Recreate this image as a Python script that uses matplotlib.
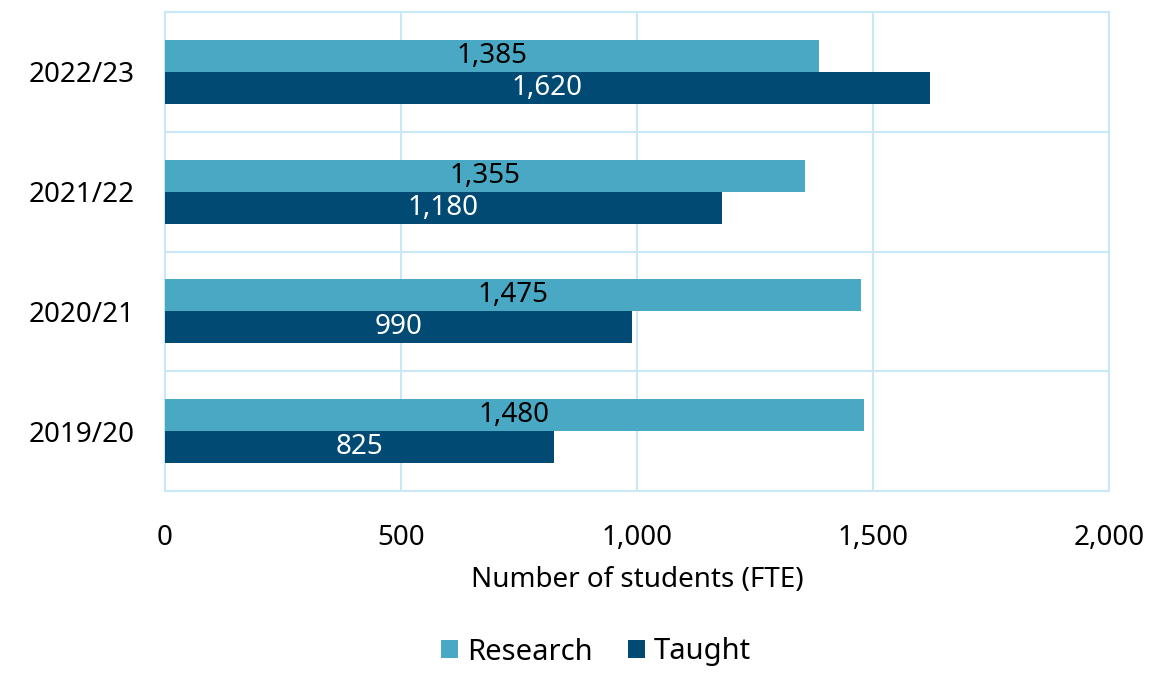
import matplotlib.pyplot as plt
import numpy as np

years = ['2019/20', '2020/21', '2021/22', '2022/23']
research = [1480, 1475, 1355, 1385]
taught = [825, 990, 1180, 1620]

c_res = '#49A9C5'
c_tau = '#004A74'
c_grid = '#C8E8F8'

plt.rcParams['font.family'] = ['Noto Sans', 'DejaVu Sans']
fs = 20

fig = plt.figure(figsize=(11.51, 6.73), dpi=100)
ax = fig.add_axes([165/1151, 1-491/673, (1109-165)/1151, (491-12)/673])

y = np.arange(len(years))
h = 0.267
b1 = ax.barh(y + h/2, research, height=h, color=c_res, label='Research', zorder=3)
b2 = ax.barh(y - h/2, taught, height=h, color=c_tau, label='Taught', zorder=3)

for bar, v in zip(b1, research):
    ax.text(v/2, bar.get_y() + bar.get_height()/2, f'{v:,}', ha='center', va='center',
            fontsize=fs, color='black', zorder=4)
for bar, v in zip(b2, taught):
    ax.text(v/2, bar.get_y() + bar.get_height()/2, f'{v:,}', ha='center', va='center',
            fontsize=fs, color='white', zorder=4)

ax.set_xlim(0, 2000)
ax.set_ylim(-0.5, len(years) - 0.5)
ax.set_xticks([0, 500, 1000, 1500, 2000])
ax.set_xticklabels([f'{t:,}' for t in [0, 500, 1000, 1500, 2000]])
ax.set_yticks(y)
ax.set_yticklabels(years)
ax.tick_params(length=0, labelsize=fs)
ax.tick_params(axis='y', pad=22)
ax.tick_params(axis='x', pad=24)

ax.grid(axis='x', color=c_grid, linewidth=1.5, zorder=0)
for b in np.arange(0.5, len(years) - 0.5):
    ax.axhline(b, color=c_grid, linewidth=1.5, zorder=0)
for s in ax.spines.values():
    s.set_color(c_grid)
    s.set_linewidth(1.5)

ax.set_xlabel('Number of students (FTE)', fontsize=fs, labelpad=10)

# legend sits low like the original, but kept inside the canvas
fig.legend(handles=[b1, b2], loc='center', bbox_to_anchor=(596/1151, 1-652/673), ncol=2,
           frameon=False, fontsize=fs + 1, handlelength=0.6, handleheight=0.6,
           handletextpad=0.3, columnspacing=1.2)

fig.savefig('out.png', dpi=100)
